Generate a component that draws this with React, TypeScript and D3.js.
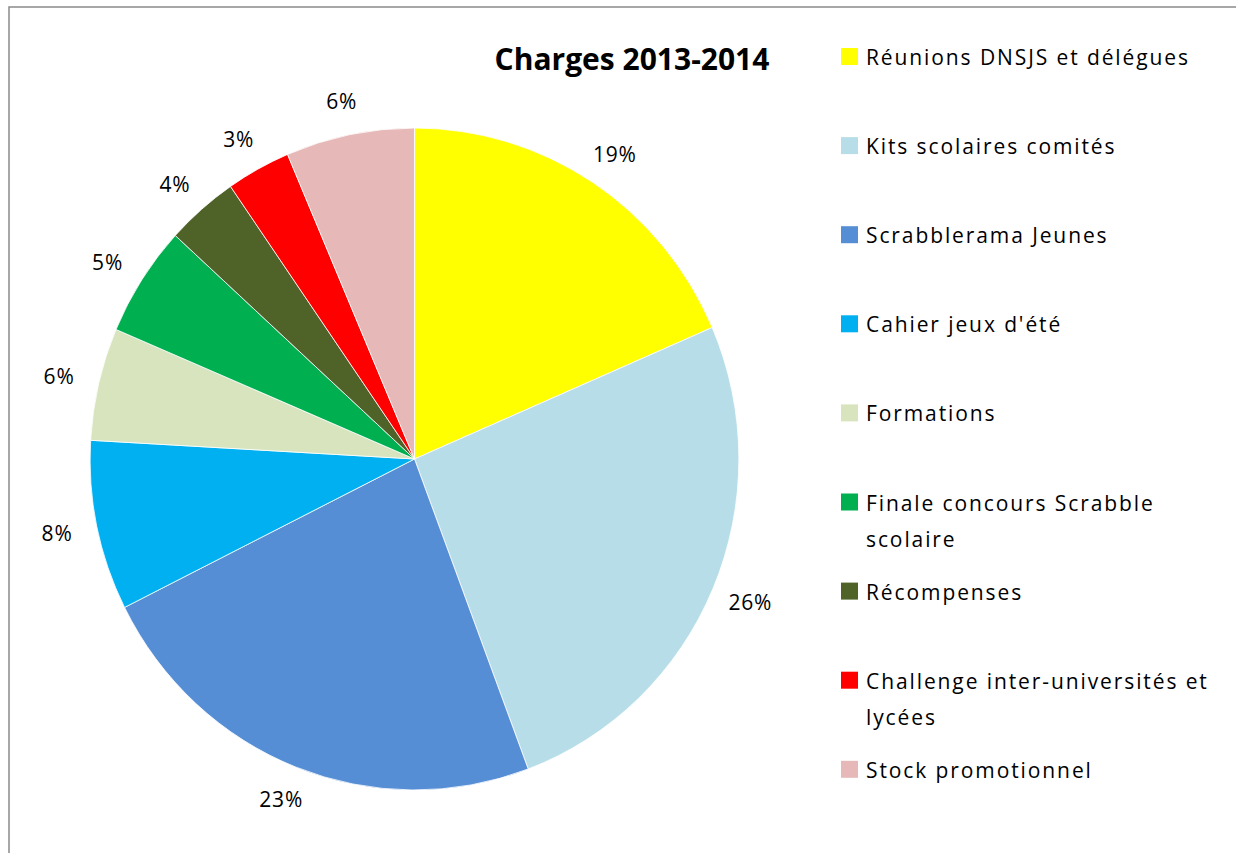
import React from "react";
import * as d3 from "d3";

const categories = [
  "Réunions DNSJS et délégues",
  "Kits scolaires comités",
  "Scrabblerama Jeunes",
  "Cahier jeux d'été",
  "Formations",
  "Finale concours Scrabble scolaire",
  "Récompenses",
  "Challenge inter-universités et lycées",
  "Stock promotionnel",
];
const values = [18.5, 25.8, 23.3, 8.3, 5.5, 5.4, 3.6, 3.2, 6.4];
const legendLines = [
  ["Réunions DNSJS et délégues"],
  ["Kits scolaires comités"],
  ["Scrabblerama Jeunes"],
  ["Cahier jeux d'été"],
  ["Formations"],
  ["Finale concours Scrabble", "scolaire"],
  ["Récompenses"],
  ["Challenge inter-universités et", "lycées"],
  ["Stock promotionnel"],
];
const colors = [
  "#FFFF00",
  "#B7DEE8",
  "#558ED5",
  "#00B0F0",
  "#D7E4BD",
  "#00B050",
  "#4F6228",
  "#FF0000",
  "#E6B9B8",
];
const title = "Charges 2013-2014";

const W = 1236;
const H = 853;
const cx = 414.5;
const cy = 459;
const R = 331;
const sx = 0.98;
const labelR = 365;
const FONT = "'Open Sans', 'Liberation Sans', sans-serif";

export default function App() {
  const total = d3.sum(values);
  const pie = d3
    .pie<number>()
    .sort(null)
    .value((d) => d);
  const arcs = pie(values);
  const arc = d3.arc<d3.PieArcDatum<number>>().innerRadius(0).outerRadius(R);
  const fmt = (v: number) => `${Math.round((v / total) * 100)}%`;

  const legendX = 841;
  const legendTextX = 866;
  const legendY0 = 65;
  const legendStep = 89.1;

  return (
    <svg
      width={W}
      height={H}
      style={{ position: "absolute", left: 0, top: 0, background: "#fff" }}
      fontFamily={FONT}
    >
      <rect x={0} y={0} width={W} height={H} fill="#fff" />
      <rect
        x={9}
        y={7}
        width={W + 20}
        height={H + 20}
        fill="none"
        stroke="#8a8a8a"
        strokeWidth={1.5}
      />
      <g transform={`translate(${cx},${cy}) scale(${sx},1)`}>
        {arcs.map((a, i) => (
          <path
            key={i}
            d={arc(a) || ""}
            fill={colors[i]}
            stroke="#fff"
            strokeWidth={0.8}
          />
        ))}
      </g>
      <g transform={`translate(${cx},${cy})`}>
        {arcs.map((a, i) => {
          const m = (a.startAngle + a.endAngle) / 2;
          const x = labelR * Math.sin(m);
          const y = -labelR * Math.cos(m);
          return (
            <text
              key={i}
              x={x}
              y={y}
              textAnchor="middle"
              dominantBaseline="central"
              fontSize={21}
              fill="#000"
              letterSpacing={0.8}
            >
              {fmt(a.data)}
            </text>
          );
        })}
      </g>
      <text
        x={632}
        y={70}
        textAnchor="middle"
        fontSize={30}
        fontWeight="bold"
        fill="#000"
      >
        {title}
      </text>
      <g>
        {categories.map((c, i) => {
          const by = legendY0 + i * legendStep;
          return (
            <g key={c}>
              <rect
                x={legendX}
                y={by - 17}
                width={17}
                height={17}
                fill={colors[i]}
              />
              {legendLines[i].map((ln, j) => (
                <text
                  key={j}
                  x={legendTextX}
                  y={by + j * 36}
                  fontSize={21}
                  fill="#000"
                  letterSpacing={1.9}
                >
                  {ln}
                </text>
              ))}
            </g>
          );
        })}
      </g>
    </svg>
  );
}
